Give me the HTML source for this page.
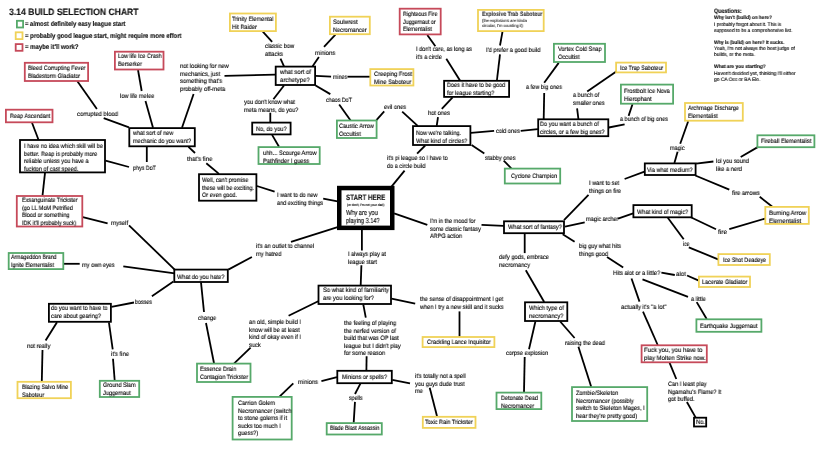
<!DOCTYPE html>
<html><head><meta charset="utf-8"><style>
html,body{margin:0;padding:0;background:#fff;}
body{width:830px;height:457px;position:relative;overflow:hidden;font-family:"Liberation Sans",sans-serif;}
.b{position:absolute;box-sizing:border-box;background:#fff;}
.t{position:absolute;white-space:pre;transform-origin:0 0;will-change:transform;text-rendering:geometricPrecision;-webkit-text-stroke:0.12px currentColor;}
svg{position:absolute;left:0;top:0;}
</style></head><body>

<svg width="830" height="457" viewBox="0 0 830 457">
<line x1="77.2" y1="81" x2="96.9" y2="109" stroke="#000" stroke-width="1.8"/>
<line x1="103.7" y1="118.2" x2="129" y2="127.3" stroke="#000" stroke-width="1.8"/>
<line x1="138" y1="70" x2="141.7" y2="91" stroke="#000" stroke-width="1.8"/>
<line x1="145.5" y1="101" x2="153" y2="127.8" stroke="#000" stroke-width="1.8"/>
<line x1="193.6" y1="94" x2="182" y2="127.8" stroke="#000" stroke-width="1.8"/>
<line x1="275.4" y1="74.6" x2="224.5" y2="75.9" stroke="#000" stroke-width="1.8"/>
<line x1="146.8" y1="146.8" x2="146.8" y2="162" stroke="#000" stroke-width="1.8"/>
<line x1="105.5" y1="160.7" x2="129" y2="167" stroke="#000" stroke-width="1.8"/>
<line x1="32" y1="122.8" x2="38.5" y2="139.7" stroke="#000" stroke-width="1.8"/>
<line x1="45" y1="172.9" x2="42.5" y2="195.7" stroke="#000" stroke-width="1.8"/>
<line x1="188.5" y1="146.8" x2="195" y2="153" stroke="#000" stroke-width="1.8"/>
<line x1="206.3" y1="163.3" x2="219" y2="173.9" stroke="#000" stroke-width="1.8"/>
<line x1="256.9" y1="186" x2="274.6" y2="191.6" stroke="#000" stroke-width="1.8"/>
<line x1="323.2" y1="198.7" x2="337.6" y2="201.3" stroke="#000" stroke-width="1.8"/>
<line x1="391.5" y1="186.6" x2="404.6" y2="170.6" stroke="#000" stroke-width="1.8"/>
<line x1="417.1" y1="153.6" x2="425.2" y2="145.5" stroke="#000" stroke-width="1.8"/>
<line x1="394.1" y1="213.3" x2="427.3" y2="224.8" stroke="#000" stroke-width="1.8"/>
<line x1="481.5" y1="224.8" x2="503.7" y2="225.8" stroke="#000" stroke-width="1.8"/>
<line x1="337.6" y1="227.1" x2="291" y2="241.8" stroke="#000" stroke-width="1.8"/>
<line x1="251.9" y1="257" x2="228.3" y2="269.6" stroke="#000" stroke-width="1.8"/>
<line x1="361.9" y1="229.7" x2="361.9" y2="250.6" stroke="#000" stroke-width="1.8"/>
<line x1="361.4" y1="265.3" x2="360.7" y2="285.3" stroke="#000" stroke-width="1.8"/>
<line x1="82.8" y1="217.2" x2="107.6" y2="223.3" stroke="#000" stroke-width="1.8"/>
<line x1="129" y1="225.3" x2="174.7" y2="269.6" stroke="#000" stroke-width="1.8"/>
<line x1="63.8" y1="263.8" x2="79.7" y2="263.8" stroke="#000" stroke-width="1.8"/>
<line x1="123.3" y1="266.3" x2="174.7" y2="273.4" stroke="#000" stroke-width="1.8"/>
<line x1="173.4" y1="281.5" x2="151.9" y2="296.2" stroke="#000" stroke-width="1.8"/>
<line x1="134" y1="302.5" x2="111.4" y2="306.8" stroke="#000" stroke-width="1.8"/>
<line x1="57" y1="322.3" x2="45.6" y2="340.5" stroke="#000" stroke-width="1.8"/>
<line x1="42.5" y1="350" x2="41.8" y2="381.5" stroke="#000" stroke-width="1.8"/>
<line x1="108.9" y1="322.3" x2="112.7" y2="349.4" stroke="#000" stroke-width="1.8"/>
<line x1="113" y1="358.7" x2="114.7" y2="380.5" stroke="#000" stroke-width="1.8"/>
<line x1="201" y1="282.3" x2="204" y2="312" stroke="#000" stroke-width="1.8"/>
<line x1="206" y1="323" x2="214" y2="363.3" stroke="#000" stroke-width="1.8"/>
<line x1="234.2" y1="363.3" x2="250.6" y2="347.6" stroke="#000" stroke-width="1.8"/>
<line x1="288.6" y1="315.7" x2="318.2" y2="301.2" stroke="#000" stroke-width="1.8"/>
<line x1="363.3" y1="304.5" x2="365.8" y2="317.7" stroke="#000" stroke-width="1.8"/>
<line x1="366.6" y1="356.2" x2="366.4" y2="370.5" stroke="#000" stroke-width="1.8"/>
<line x1="337" y1="377.2" x2="321.4" y2="381.2" stroke="#000" stroke-width="1.8"/>
<line x1="293.3" y1="383.3" x2="279.5" y2="396.6" stroke="#000" stroke-width="1.8"/>
<line x1="360.4" y1="383.7" x2="355" y2="394" stroke="#000" stroke-width="1.8"/>
<line x1="355" y1="401.9" x2="353.7" y2="422.8" stroke="#000" stroke-width="1.8"/>
<line x1="392.3" y1="379.9" x2="410" y2="383.3" stroke="#000" stroke-width="1.8"/>
<line x1="429.7" y1="387.8" x2="437.1" y2="416.5" stroke="#000" stroke-width="1.8"/>
<line x1="391.5" y1="298.7" x2="415.2" y2="303.7" stroke="#000" stroke-width="1.8"/>
<line x1="459.5" y1="311.4" x2="459.5" y2="336.7" stroke="#000" stroke-width="1.8"/>
<line x1="524.7" y1="233.7" x2="524.7" y2="253.1" stroke="#000" stroke-width="1.8"/>
<line x1="525.8" y1="270.3" x2="544.2" y2="302" stroke="#000" stroke-width="1.8"/>
<line x1="535.4" y1="321.5" x2="529" y2="349.3" stroke="#000" stroke-width="1.8"/>
<line x1="524.7" y1="357" x2="524" y2="392.3" stroke="#000" stroke-width="1.8"/>
<line x1="560.2" y1="321.5" x2="574.6" y2="338" stroke="#000" stroke-width="1.8"/>
<line x1="578.4" y1="346.8" x2="591.2" y2="386.8" stroke="#000" stroke-width="1.8"/>
<line x1="564" y1="220.2" x2="588.5" y2="194.9" stroke="#000" stroke-width="1.8"/>
<line x1="565" y1="226.6" x2="584.7" y2="222.3" stroke="#000" stroke-width="1.8"/>
<line x1="562.7" y1="234.2" x2="574.6" y2="241.8" stroke="#000" stroke-width="1.8"/>
<line x1="624.6" y1="179" x2="644.5" y2="171.6" stroke="#000" stroke-width="1.8"/>
<line x1="674.4" y1="163.1" x2="677.6" y2="151.7" stroke="#000" stroke-width="1.8"/>
<line x1="680.2" y1="143.7" x2="688.2" y2="121.2" stroke="#000" stroke-width="1.8"/>
<line x1="696.1" y1="163.6" x2="713.4" y2="161.5" stroke="#000" stroke-width="1.8"/>
<line x1="740.7" y1="157" x2="759" y2="146.4" stroke="#000" stroke-width="1.8"/>
<line x1="695.3" y1="175.5" x2="729.3" y2="189.6" stroke="#000" stroke-width="1.8"/>
<line x1="759.7" y1="196.7" x2="773" y2="207.3" stroke="#000" stroke-width="1.8"/>
<line x1="618" y1="218.6" x2="633.1" y2="213.3" stroke="#000" stroke-width="1.8"/>
<line x1="690.8" y1="217.2" x2="716" y2="229.2" stroke="#000" stroke-width="1.8"/>
<line x1="729.3" y1="229.2" x2="765" y2="218.6" stroke="#000" stroke-width="1.8"/>
<line x1="667.8" y1="217.8" x2="683.7" y2="239.2" stroke="#000" stroke-width="1.8"/>
<line x1="688.8" y1="247.3" x2="718.7" y2="259.6" stroke="#000" stroke-width="1.8"/>
<line x1="607" y1="257.1" x2="623.2" y2="267.6" stroke="#000" stroke-width="1.8"/>
<line x1="661.4" y1="272.7" x2="674.8" y2="275" stroke="#000" stroke-width="1.8"/>
<line x1="687.1" y1="275.5" x2="698.8" y2="280.6" stroke="#000" stroke-width="1.8"/>
<line x1="642.5" y1="279.4" x2="688" y2="296.8" stroke="#000" stroke-width="1.8"/>
<line x1="696.7" y1="302.1" x2="706.7" y2="319" stroke="#000" stroke-width="1.8"/>
<line x1="631.5" y1="278.5" x2="639.5" y2="301.6" stroke="#000" stroke-width="1.8"/>
<line x1="643" y1="311.7" x2="657.7" y2="345" stroke="#000" stroke-width="1.8"/>
<line x1="669.6" y1="362.8" x2="676.3" y2="379" stroke="#000" stroke-width="1.8"/>
<line x1="686.9" y1="402" x2="695.6" y2="417.4" stroke="#000" stroke-width="1.8"/>
<line x1="427.3" y1="34.9" x2="435.4" y2="46.3" stroke="#000" stroke-width="1.8"/>
<line x1="446.3" y1="58.7" x2="460" y2="80.5" stroke="#000" stroke-width="1.8"/>
<line x1="502.5" y1="31.6" x2="500" y2="45.5" stroke="#000" stroke-width="1.8"/>
<line x1="500" y1="54.4" x2="496.9" y2="80.5" stroke="#000" stroke-width="1.8"/>
<line x1="452.6" y1="97.4" x2="441.8" y2="108.9" stroke="#000" stroke-width="1.8"/>
<line x1="438" y1="117.2" x2="436.7" y2="125.8" stroke="#000" stroke-width="1.8"/>
<line x1="402.2" y1="111.6" x2="417.7" y2="125.8" stroke="#000" stroke-width="1.8"/>
<line x1="470.9" y1="132.9" x2="494.1" y2="130.9" stroke="#000" stroke-width="1.8"/>
<line x1="520.7" y1="130.9" x2="537.9" y2="129.1" stroke="#000" stroke-width="1.8"/>
<line x1="471.6" y1="145" x2="484.3" y2="153.6" stroke="#000" stroke-width="1.8"/>
<line x1="503.7" y1="160.7" x2="511.3" y2="168.3" stroke="#000" stroke-width="1.8"/>
<line x1="543.7" y1="119" x2="544.2" y2="92.9" stroke="#000" stroke-width="1.8"/>
<line x1="544.2" y1="82.8" x2="558.7" y2="62.9" stroke="#000" stroke-width="1.8"/>
<line x1="578.4" y1="119" x2="577.1" y2="108.3" stroke="#000" stroke-width="1.8"/>
<line x1="587.2" y1="91.6" x2="617" y2="71" stroke="#000" stroke-width="1.8"/>
<line x1="608.8" y1="127.5" x2="624.6" y2="124.4" stroke="#000" stroke-width="1.8"/>
<line x1="628.6" y1="115.9" x2="632.5" y2="104.2" stroke="#000" stroke-width="1.8"/>
<line x1="284" y1="66.3" x2="280.5" y2="58.7" stroke="#000" stroke-width="1.8"/>
<line x1="262.8" y1="31.6" x2="272.1" y2="41.8" stroke="#000" stroke-width="1.8"/>
<line x1="312.6" y1="66.3" x2="318.9" y2="56.9" stroke="#000" stroke-width="1.8"/>
<line x1="324" y1="46.8" x2="335.4" y2="34.7" stroke="#000" stroke-width="1.8"/>
<line x1="315.6" y1="75.9" x2="331.1" y2="76.7" stroke="#000" stroke-width="1.8"/>
<line x1="347.5" y1="76.7" x2="370" y2="76.7" stroke="#000" stroke-width="1.8"/>
<line x1="284" y1="85.5" x2="273.4" y2="99.2" stroke="#000" stroke-width="1.8"/>
<line x1="270.3" y1="112.7" x2="270.3" y2="122.3" stroke="#000" stroke-width="1.8"/>
<line x1="272.1" y1="134.9" x2="279" y2="146.8" stroke="#000" stroke-width="1.8"/>
<line x1="315.6" y1="85.5" x2="330.3" y2="94.1" stroke="#000" stroke-width="1.8"/>
<line x1="339.2" y1="104.5" x2="350.6" y2="120.5" stroke="#000" stroke-width="1.8"/>
<line x1="376.4" y1="120.2" x2="384.2" y2="111.4" stroke="#000" stroke-width="1.8"/>
<rect x="16.90" y="20.80" width="6.20" height="6.70" fill="#fff" stroke="#56a96a" stroke-width="1.80"/>
<rect x="15.70" y="32.30" width="6.80" height="6.80" fill="#fff" stroke="#f0d258" stroke-width="1.80"/>
<rect x="15.70" y="44.10" width="6.80" height="6.70" fill="#fff" stroke="#c64a5a" stroke-width="1.80"/>
<rect x="24.80" y="62.80" width="63.30" height="18.20" fill="#fff" stroke="#c64a5a" stroke-width="1.80"/>
<rect x="114.90" y="51.70" width="48.60" height="17.80" fill="#fff" stroke="#c64a5a" stroke-width="1.80"/>
<rect x="5.90" y="109.70" width="46.60" height="12.60" fill="#fff" stroke="#c64a5a" stroke-width="1.80"/>
<rect x="20.00" y="140.00" width="85.00" height="32.40" fill="#fff" stroke="#000000" stroke-width="1.80"/>
<rect x="129.30" y="128.10" width="65.50" height="18.20" fill="#fff" stroke="#000000" stroke-width="1.80"/>
<rect x="199.00" y="174.20" width="57.40" height="26.50" fill="#fff" stroke="#000000" stroke-width="1.80"/>
<rect x="16.80" y="196.00" width="65.50" height="30.50" fill="#fff" stroke="#c64a5a" stroke-width="1.80"/>
<rect x="8.70" y="253.00" width="54.60" height="16.10" fill="#fff" stroke="#56a96a" stroke-width="1.80"/>
<rect x="174.30" y="269.60" width="53.50" height="12.40" fill="#fff" stroke="#000000" stroke-width="1.80"/>
<rect x="48.90" y="303.80" width="62.00" height="18.00" fill="#fff" stroke="#000000" stroke-width="1.80"/>
<rect x="17.50" y="381.80" width="53.40" height="16.40" fill="#fff" stroke="#f0d258" stroke-width="1.80"/>
<rect x="99.80" y="380.80" width="39.40" height="16.20" fill="#fff" stroke="#56a96a" stroke-width="1.80"/>
<rect x="197.00" y="363.60" width="53.50" height="18.40" fill="#fff" stroke="#56a96a" stroke-width="1.80"/>
<rect x="232.60" y="396.90" width="59.10" height="42.60" fill="#fff" stroke="#56a96a" stroke-width="1.80"/>
<rect x="337.30" y="370.80" width="54.50" height="12.40" fill="#fff" stroke="#000000" stroke-width="1.80"/>
<rect x="326.70" y="423.10" width="55.10" height="11.40" fill="#fff" stroke="#56a96a" stroke-width="1.80"/>
<rect x="422.80" y="416.80" width="52.70" height="11.10" fill="#fff" stroke="#f0d258" stroke-width="1.80"/>
<rect x="318.50" y="285.60" width="72.50" height="18.40" fill="#fff" stroke="#000000" stroke-width="1.80"/>
<rect x="339.25" y="188.05" width="53.00" height="39.80" fill="#fff" stroke="#000000" stroke-width="4.50"/>
<rect x="258.50" y="147.10" width="61.20" height="16.90" fill="#fff" stroke="#56a96a" stroke-width="1.80"/>
<rect x="252.20" y="122.60" width="38.40" height="11.80" fill="#fff" stroke="#000000" stroke-width="1.80"/>
<rect x="275.70" y="66.60" width="39.40" height="18.40" fill="#fff" stroke="#000000" stroke-width="1.80"/>
<rect x="229.90" y="13.50" width="46.00" height="17.60" fill="#fff" stroke="#f0d258" stroke-width="1.80"/>
<rect x="329.90" y="16.70" width="39.90" height="17.50" fill="#fff" stroke="#f0d258" stroke-width="1.80"/>
<rect x="370.30" y="69.10" width="43.10" height="16.40" fill="#fff" stroke="#f0d258" stroke-width="1.80"/>
<rect x="336.90" y="120.50" width="39.70" height="17.50" fill="#fff" stroke="#56a96a" stroke-width="1.80"/>
<rect x="399.70" y="8.70" width="41.00" height="25.70" fill="#fff" stroke="#c64a5a" stroke-width="1.80"/>
<rect x="444.10" y="80.80" width="65.00" height="16.10" fill="#fff" stroke="#000000" stroke-width="1.80"/>
<rect x="478.00" y="9.90" width="65.70" height="21.20" fill="#fff" stroke="#f0d258" stroke-width="1.80"/>
<rect x="553.90" y="43.80" width="51.10" height="18.20" fill="#fff" stroke="#56a96a" stroke-width="1.80"/>
<rect x="413.00" y="126.10" width="57.40" height="18.90" fill="#fff" stroke="#000000" stroke-width="1.80"/>
<rect x="538.20" y="119.30" width="70.10" height="16.90" fill="#fff" stroke="#000000" stroke-width="1.80"/>
<rect x="504.80" y="168.60" width="55.40" height="14.90" fill="#fff" stroke="#56a96a" stroke-width="1.80"/>
<rect x="616.10" y="62.60" width="49.90" height="9.80" fill="#fff" stroke="#f0d258" stroke-width="1.80"/>
<rect x="620.90" y="84.60" width="52.20" height="19.10" fill="#fff" stroke="#56a96a" stroke-width="1.80"/>
<rect x="685.00" y="103.00" width="57.80" height="17.70" fill="#fff" stroke="#f0d258" stroke-width="1.80"/>
<rect x="644.80" y="163.40" width="50.80" height="11.60" fill="#fff" stroke="#000000" stroke-width="1.80"/>
<rect x="757.40" y="135.30" width="57.00" height="11.90" fill="#fff" stroke="#56a96a" stroke-width="1.80"/>
<rect x="633.40" y="205.10" width="58.30" height="12.20" fill="#fff" stroke="#000000" stroke-width="1.80"/>
<rect x="765.30" y="206.90" width="43.50" height="17.00" fill="#fff" stroke="#f0d258" stroke-width="1.80"/>
<rect x="718.40" y="254.10" width="51.40" height="10.90" fill="#fff" stroke="#f0d258" stroke-width="1.80"/>
<rect x="698.90" y="276.60" width="51.10" height="10.40" fill="#fff" stroke="#f0d258" stroke-width="1.80"/>
<rect x="696.40" y="319.30" width="65.00" height="12.50" fill="#fff" stroke="#56a96a" stroke-width="1.80"/>
<rect x="641.60" y="345.30" width="65.20" height="17.00" fill="#fff" stroke="#c64a5a" stroke-width="1.80"/>
<rect x="694.00" y="417.70" width="12.20" height="8.80" fill="#fff" stroke="#000000" stroke-width="1.80"/>
<rect x="504.00" y="221.30" width="60.00" height="11.90" fill="#fff" stroke="#000000" stroke-width="1.80"/>
<rect x="422.60" y="337.00" width="71.80" height="10.10" fill="#fff" stroke="#f0d258" stroke-width="1.80"/>
<rect x="525.00" y="302.30" width="42.30" height="18.70" fill="#fff" stroke="#000000" stroke-width="1.80"/>
<rect x="496.50" y="392.60" width="44.80" height="16.50" fill="#fff" stroke="#56a96a" stroke-width="1.80"/>
<rect x="572.00" y="387.10" width="75.20" height="33.90" fill="#fff" stroke="#56a96a" stroke-width="1.80"/>
</svg>
<div class="t" style="left:8.9px;top:9.0px;font-size:9.3px;line-height:7.5px;color:#111;transform:scaleX(0.925);font-weight:bold">3.14 BUILD SELECTION CHART</div>
<div class="t" style="left:24.8px;top:21.3px;font-size:6.8px;line-height:7.5px;color:#111;transform:scaleX(0.862);font-weight:bold">= almost definitely easy league start</div>
<div class="t" style="left:24.8px;top:33.0px;font-size:6.8px;line-height:7.5px;color:#111;transform:scaleX(0.879);font-weight:bold">= probably good league start, might require more effort</div>
<div class="t" style="left:24.8px;top:44.4px;font-size:6.8px;line-height:7.5px;color:#111;transform:scaleX(0.881);font-weight:bold">= maybe it'll work?</div>
<div class="t" style="left:713.9px;top:8.2px;font-size:6.5px;line-height:7.5px;color:#111;transform:scaleX(0.819);font-weight:bold">Questions:</div>
<div class="t" style="left:713.9px;top:15.0px;font-size:5px;line-height:7.5px;color:#111;transform:scaleX(0.945);font-weight:bold">Why isn't (build) on here?</div>
<div class="t" style="left:713.9px;top:21.9px;font-size:5px;line-height:6.1px;color:#000;transform:scaleX(0.947)">I probably forgot about it. This is<br>supposed to be a comprehensive list.</div>
<div class="t" style="left:713.9px;top:39.6px;font-size:5px;line-height:7.5px;color:#111;transform:scaleX(0.916);font-weight:bold">Why is (build) on here? It sucks.</div>
<div class="t" style="left:713.9px;top:46.3px;font-size:5px;line-height:6.3px;color:#000;transform:scaleX(0.963)">Yeah, I'm not always the best judge of<br>builds, or the meta.</div>
<div class="t" style="left:713.9px;top:64.3px;font-size:5px;line-height:7.5px;color:#111;transform:scaleX(0.954);font-weight:bold">What are you starting?</div>
<div class="t" style="left:713.9px;top:71.3px;font-size:5px;line-height:6.1px;color:#000;transform:scaleX(0.976)">Haven't decided yet, thinking I'll either<br>go CA Occ or BA Ele.</div>
<div class="t" style="left:27.8px;top:64.9px;font-size:6.3px;line-height:7.5px;color:#000;transform:scaleX(0.883)">Bleed Corrupting Fever<br>Bladestorm Gladiator</div>
<div class="t" style="left:117.7px;top:53.3px;font-size:6.3px;line-height:7.5px;color:#000;transform:scaleX(0.871)">Low life Ice Crash<br>Berserker</div>
<div class="t" style="left:180.3px;top:63.4px;font-size:6.3px;line-height:7.5px;color:#000;transform:scaleX(0.923)">not looking for new<br>mechanics, just<br>something that's<br>probably off-meta</div>
<div class="t" style="left:119.7px;top:92.7px;font-size:6.3px;line-height:7.5px;color:#000;transform:scaleX(0.899)">low life melee</div>
<div class="t" style="left:77.0px;top:111.1px;font-size:6.3px;line-height:7.5px;color:#000;transform:scaleX(0.937)">corrupted blood</div>
<div class="t" style="left:9.6px;top:112.5px;font-size:6.3px;line-height:7.5px;color:#000;transform:scaleX(0.872)">Reap Ascendant</div>
<div class="t" style="left:24.0px;top:143.2px;font-size:6.3px;line-height:7.5px;color:#000;transform:scaleX(0.888)">I have no idea which skill will be<br>better. Reap is probably more<br>reliable unless you have a<br>fuckton of cast speed.</div>
<div class="t" style="left:133.4px;top:129.5px;font-size:6.3px;line-height:7.5px;color:#000;transform:scaleX(0.879)">what sort of new<br>mechanic do you want?</div>
<div class="t" style="left:133.0px;top:164.7px;font-size:6.3px;line-height:7.5px;color:#000;transform:scaleX(0.853)">phys DoT</div>
<div class="t" style="left:187.3px;top:155.8px;font-size:6.3px;line-height:7.5px;color:#000;transform:scaleX(0.949)">that's fine</div>
<div class="t" style="left:202.0px;top:176.8px;font-size:6.3px;line-height:7.5px;color:#000;transform:scaleX(0.874)">Well, can't promise<br>these will be exciting.<br>Or even good.</div>
<div class="t" style="left:21.8px;top:197.3px;font-size:6.3px;line-height:7.5px;color:#000;transform:scaleX(0.874)">Exsanguinate Trickster<br>(go LL MoM Petrified<br>Blood or something<br>IDK it'll probably suck)</div>
<div class="t" style="left:110.6px;top:220.4px;font-size:6.3px;line-height:7.5px;color:#000;transform:scaleX(0.945)">myself</div>
<div class="t" style="left:11.4px;top:254.3px;font-size:6.3px;line-height:7.5px;color:#000;transform:scaleX(0.835)">Armageddon Brand<br>Ignite Elementalist</div>
<div class="t" style="left:82.3px;top:262.1px;font-size:6.3px;line-height:7.5px;color:#000;transform:scaleX(0.890)">my own eyes</div>
<div class="t" style="left:177.2px;top:274.1px;font-size:6.3px;line-height:7.5px;color:#000;transform:scaleX(0.900)">What do you hate?</div>
<div class="t" style="left:135.0px;top:298.9px;font-size:6.3px;line-height:7.5px;color:#000;transform:scaleX(0.852)">bosses</div>
<div class="t" style="left:51.4px;top:305.4px;font-size:6.3px;line-height:7.5px;color:#000;transform:scaleX(0.894)">do you want to have to<br>care about gearing?</div>
<div class="t" style="left:26.6px;top:343.1px;font-size:6.3px;line-height:7.5px;color:#000;transform:scaleX(0.915)">not really</div>
<div class="t" style="left:111.0px;top:350.8px;font-size:6.3px;line-height:7.5px;color:#000;transform:scaleX(0.927)">it's fine</div>
<div class="t" style="left:21.5px;top:383.9px;font-size:6.3px;line-height:7.5px;color:#000;transform:scaleX(0.864)">Blazing Salvo Mine<br>Saboteur</div>
<div class="t" style="left:103.3px;top:382.4px;font-size:6.3px;line-height:7.5px;color:#000;transform:scaleX(0.881)">Ground Slam<br>Juggernaut</div>
<div class="t" style="left:198.0px;top:314.8px;font-size:6.3px;line-height:7.5px;color:#000;transform:scaleX(0.871)">change</div>
<div class="t" style="left:200.0px;top:365.5px;font-size:6.3px;line-height:7.5px;color:#000;transform:scaleX(0.884)">Essence Drain<br>Contagion Trickster</div>
<div class="t" style="left:248.6px;top:319.1px;font-size:6.3px;line-height:7.5px;color:#000;transform:scaleX(0.905)">an old, simple build I<br>know will be at least<br>kind of okay even if I<br>suck</div>
<div class="t" style="left:237.9px;top:399.5px;font-size:6.3px;line-height:7.5px;color:#000;transform:scaleX(0.904)">Carrion Golem<br>Necromancer (switch<br>to stone golems if it<br>sucks too much I<br>guess?)</div>
<div class="t" style="left:297.5px;top:379.1px;font-size:6.3px;line-height:7.5px;color:#000;transform:scaleX(0.921)">minions</div>
<div class="t" style="left:342.3px;top:373.7px;font-size:6.3px;line-height:7.5px;color:#000;transform:scaleX(0.893)">Minions or spells?</div>
<div class="t" style="left:348.5px;top:395.4px;font-size:6.3px;line-height:7.5px;color:#000;transform:scaleX(0.838)">spells</div>
<div class="t" style="left:329.9px;top:425.4px;font-size:6.3px;line-height:7.5px;color:#000;transform:scaleX(0.846)">Blade Blast Assassin</div>
<div class="t" style="left:414.8px;top:373.0px;font-size:6.3px;line-height:7.5px;color:#000;transform:scaleX(0.902)">it's totally not a spell<br>you guys dude trust<br>me</div>
<div class="t" style="left:425.2px;top:419.4px;font-size:6.3px;line-height:7.5px;color:#000;transform:scaleX(0.873)">Toxic Rain Trickster</div>
<div class="t" style="left:343.8px;top:319.9px;font-size:6.3px;line-height:7.5px;color:#000;transform:scaleX(0.902)">the feeling of playing<br>the nerfed version of<br>build that was OP last<br>league but I didn't play<br>for some reason</div>
<div class="t" style="left:322.7px;top:287.0px;font-size:6.3px;line-height:7.5px;color:#000;transform:scaleX(0.921)">So what kind of familiarity<br>are you looking for?</div>
<div class="t" style="left:348.0px;top:250.7px;font-size:6.3px;line-height:7.5px;color:#000;transform:scaleX(0.882)">I always play at<br>league start</div>
<div class="t" style="left:255.7px;top:242.6px;font-size:6.3px;line-height:7.5px;color:#000;transform:scaleX(0.906)">it's an outlet to channel<br>my hatred</div>
<div class="t" style="left:345.5px;top:193.7px;font-size:7.8px;line-height:7.5px;color:#111;transform:scaleX(0.800);font-weight:bold">START HERE</div>
<div class="t" style="left:346.6px;top:202.9px;font-size:3.4px;line-height:4px;color:#000;transform:scaleX(0.938)">(or don't, I'm not your dad)</div>
<div class="t" style="left:345.5px;top:209.0px;font-size:7.3px;line-height:7.6px;color:#000;transform:scaleX(0.776)">Why are you<br>playing 3.14?</div>
<div class="t" style="left:277.2px;top:191.5px;font-size:6.3px;line-height:7.5px;color:#000;transform:scaleX(0.882)">I want to do new<br>and exciting things</div>
<div class="t" style="left:262.8px;top:149.7px;font-size:6.3px;line-height:7.5px;color:#000;transform:scaleX(0.911)">uhh... Scourge Arrow<br>Pathfinder I guess</div>
<div class="t" style="left:256.2px;top:125.7px;font-size:6.3px;line-height:7.5px;color:#000;transform:scaleX(0.901)">No, do you?</div>
<div class="t" style="left:244.3px;top:99.4px;font-size:6.3px;line-height:7.5px;color:#000;transform:scaleX(0.898)">you don't know what<br>meta means, do you?</div>
<div class="t" style="left:279.8px;top:68.7px;font-size:6.3px;line-height:7.5px;color:#000;transform:scaleX(0.952)">what sort of<br>archetype?</div>
<div class="t" style="left:232.1px;top:15.6px;font-size:6.3px;line-height:7.5px;color:#000;transform:scaleX(0.885)">Trinity Elemental<br>Hit Raider</div>
<div class="t" style="left:264.5px;top:43.4px;font-size:6.3px;line-height:7.5px;color:#000;transform:scaleX(0.903)">classic bow<br>attacks</div>
<div class="t" style="left:333.4px;top:19.4px;font-size:6.3px;line-height:7.5px;color:#000;transform:scaleX(0.889)">Soulwrest<br>Necromancer</div>
<div class="t" style="left:314.6px;top:49.5px;font-size:6.3px;line-height:7.5px;color:#000;transform:scaleX(0.935)">minions</div>
<div class="t" style="left:333.4px;top:73.5px;font-size:6.3px;line-height:7.5px;color:#000;transform:scaleX(0.839)">mines</div>
<div class="t" style="left:373.8px;top:70.5px;font-size:6.3px;line-height:7.5px;color:#000;transform:scaleX(0.912)">Creeping Frost<br>Mine Saboteur</div>
<div class="t" style="left:325.8px;top:97.1px;font-size:6.3px;line-height:7.5px;color:#000;transform:scaleX(0.854)">chaos DoT</div>
<div class="t" style="left:339.2px;top:122.9px;font-size:6.3px;line-height:7.5px;color:#000;transform:scaleX(0.898)">Caustic Arrow<br>Occultist</div>
<div class="t" style="left:384.0px;top:104.4px;font-size:6.3px;line-height:7.5px;color:#000;transform:scaleX(0.885)">evil ones</div>
<div class="t" style="left:403.0px;top:11.0px;font-size:6.3px;line-height:7.5px;color:#000;transform:scaleX(0.840)">Righteous Fire<br>Juggernaut or<br>Elementalist</div>
<div class="t" style="left:415.7px;top:46.4px;font-size:6.3px;line-height:7.5px;color:#000;transform:scaleX(0.885)">I don't care, as long as<br>it's a circle</div>
<div class="t" style="left:446.8px;top:82.4px;font-size:6.3px;line-height:7.5px;color:#000;transform:scaleX(0.875)">Does it have to be good<br>for league starting?</div>
<div class="t" style="left:481.5px;top:11.0px;font-size:6.3px;line-height:7.5px;color:#3a3a3a;transform:scaleX(0.820);font-weight:bold">Explosive Trab Saboteur</div>
<div class="t" style="left:481.8px;top:18.4px;font-size:4.3px;line-height:5.0px;color:#333;transform:scaleX(0.937)">(the explosions are kinda<br>circular, I'm counting it)</div>
<div class="t" style="left:486.0px;top:46.9px;font-size:6.3px;line-height:7.5px;color:#000;transform:scaleX(0.896)">I'd prefer a good build</div>
<div class="t" style="left:557.6px;top:45.9px;font-size:6.3px;line-height:7.5px;color:#000;transform:scaleX(0.889)">Vortex Cold Snap<br>Occultist</div>
<div class="t" style="left:526.0px;top:83.6px;font-size:6.3px;line-height:7.5px;color:#000;transform:scaleX(0.886)">a few big ones</div>
<div class="t" style="left:572.8px;top:91.5px;font-size:6.3px;line-height:7.5px;color:#000;transform:scaleX(0.888)">a bunch of<br>smaller ones</div>
<div class="t" style="left:427.8px;top:110.3px;font-size:6.3px;line-height:7.5px;color:#000;transform:scaleX(0.910)">hot ones</div>
<div class="t" style="left:415.7px;top:129.5px;font-size:6.3px;line-height:7.5px;color:#000;transform:scaleX(0.883)">Now we're talking.<br>What kind of circles?</div>
<div class="t" style="left:496.2px;top:128.0px;font-size:6.3px;line-height:7.5px;color:#000;transform:scaleX(0.890)">cold ones</div>
<div class="t" style="left:539.9px;top:121.1px;font-size:6.3px;line-height:7.5px;color:#000;transform:scaleX(0.887)">Do you want a bunch of<br>circles, or a few big ones?</div>
<div class="t" style="left:386.9px;top:154.6px;font-size:6.3px;line-height:7.5px;color:#000;transform:scaleX(0.879)">it's pi league so I have to<br>do a circle build</div>
<div class="t" style="left:485.3px;top:155.3px;font-size:6.3px;line-height:7.5px;color:#000;transform:scaleX(0.901)">stabby ones</div>
<div class="t" style="left:510.8px;top:173.0px;font-size:6.3px;line-height:7.5px;color:#000;transform:scaleX(0.866)">Cyclone Champion</div>
<div class="t" style="left:588.5px;top:179.8px;font-size:6.3px;line-height:7.5px;color:#000;transform:scaleX(0.890)">I want to set<br>things on fire</div>
<div class="t" style="left:619.8px;top:64.7px;font-size:6.3px;line-height:7.5px;color:#000;transform:scaleX(0.863)">Ice Trap Saboteur</div>
<div class="t" style="left:623.8px;top:88.0px;font-size:6.3px;line-height:7.5px;color:#000;transform:scaleX(0.896)">Frostbolt Ice Nova<br>Hierophant</div>
<div class="t" style="left:688.2px;top:105.1px;font-size:6.3px;line-height:7.5px;color:#000;transform:scaleX(0.865)">Archmage Discharge<br>Elementalist</div>
<div class="t" style="left:619.8px;top:115.7px;font-size:6.3px;line-height:7.5px;color:#000;transform:scaleX(0.873)">a bunch of big ones</div>
<div class="t" style="left:670.4px;top:144.8px;font-size:6.3px;line-height:7.5px;color:#000;transform:scaleX(0.869)">magic</div>
<div class="t" style="left:647.1px;top:166.5px;font-size:6.3px;line-height:7.5px;color:#000;transform:scaleX(0.882)">Via what medium?</div>
<div class="t" style="left:716.0px;top:158.1px;font-size:6.3px;line-height:7.5px;color:#000;transform:scaleX(0.892)">lol you sound<br>like a nerd</div>
<div class="t" style="left:761.1px;top:138.2px;font-size:6.3px;line-height:7.5px;color:#000;transform:scaleX(0.887)">Fireball Elementalist</div>
<div class="t" style="left:731.9px;top:190.4px;font-size:6.3px;line-height:7.5px;color:#000;transform:scaleX(0.945)">fire arrows</div>
<div class="t" style="left:636.5px;top:208.5px;font-size:6.3px;line-height:7.5px;color:#000;transform:scaleX(0.897)">What kind of magic?</div>
<div class="t" style="left:585.5px;top:216.1px;font-size:6.3px;line-height:7.5px;color:#000;transform:scaleX(0.893)">magic archer</div>
<div class="t" style="left:718.0px;top:228.9px;font-size:6.3px;line-height:7.5px;color:#000;transform:scaleX(1.028)">fire</div>
<div class="t" style="left:768.5px;top:209.6px;font-size:6.3px;line-height:7.5px;color:#000;transform:scaleX(0.938)">Burning Arrow<br>Elementalist</div>
<div class="t" style="left:683.2px;top:240.9px;font-size:6.3px;line-height:7.5px;color:#000;transform:scaleX(0.795)">ice</div>
<div class="t" style="left:723.4px;top:256.7px;font-size:6.3px;line-height:7.5px;color:#000;transform:scaleX(0.859)">Ice Shot Deadeye</div>
<div class="t" style="left:579.0px;top:243.1px;font-size:6.3px;line-height:7.5px;color:#000;transform:scaleX(0.895)">big guy what hits<br>things good</div>
<div class="t" style="left:612.7px;top:269.6px;font-size:6.3px;line-height:7.5px;color:#000;transform:scaleX(0.913)">Hits alot or a little?</div>
<div class="t" style="left:675.6px;top:271.1px;font-size:6.3px;line-height:7.5px;color:#000;transform:scaleX(0.955)">alot</div>
<div class="t" style="left:702.0px;top:278.7px;font-size:6.3px;line-height:7.5px;color:#000;transform:scaleX(0.874)">Lacerate Gladiator</div>
<div class="t" style="left:691.0px;top:295.8px;font-size:6.3px;line-height:7.5px;color:#000;transform:scaleX(0.899)">a little</div>
<div class="t" style="left:621.0px;top:303.6px;font-size:6.3px;line-height:7.5px;color:#000;transform:scaleX(0.931)">actually it's "a lot"</div>
<div class="t" style="left:700.1px;top:322.5px;font-size:6.3px;line-height:7.5px;color:#000;transform:scaleX(0.878)">Earthquake Juggernaut</div>
<div class="t" style="left:643.7px;top:346.9px;font-size:6.3px;line-height:7.5px;color:#000;transform:scaleX(0.952)">Fuck you, you have to<br>play Molten Strike now.</div>
<div class="t" style="left:667.9px;top:381.2px;font-size:6.3px;line-height:7.5px;color:#000;transform:scaleX(0.890)">Can I least play<br>Ngamahu's Flame? It<br>got buffed.</div>
<div class="t" style="left:695.6px;top:419.1px;font-size:6.3px;line-height:7.5px;color:#000;transform:scaleX(0.928)">No.</div>
<div class="t" style="left:507.5px;top:224.1px;font-size:6.3px;line-height:7.5px;color:#000;transform:scaleX(0.906)">What sort of fantasy?</div>
<div class="t" style="left:429.6px;top:218.1px;font-size:6.3px;line-height:7.5px;color:#000;transform:scaleX(0.876)">I'm in the mood for<br>some classic fantasy<br>ARPG action</div>
<div class="t" style="left:499.4px;top:254.0px;font-size:6.3px;line-height:7.5px;color:#000;transform:scaleX(0.902)">defy gods, embrace<br>necromancy</div>
<div class="t" style="left:419.7px;top:295.8px;font-size:6.3px;line-height:7.5px;color:#000;transform:scaleX(0.897)">the sense of disappointment I get<br>when I try a new skill and it sucks</div>
<div class="t" style="left:426.6px;top:339.1px;font-size:6.3px;line-height:7.5px;color:#000;transform:scaleX(0.879)">Crackling Lance Inquisitor</div>
<div class="t" style="left:528.5px;top:304.7px;font-size:6.3px;line-height:7.5px;color:#000;transform:scaleX(0.909)">Which type of<br>necromancy?</div>
<div class="t" style="left:505.8px;top:349.7px;font-size:6.3px;line-height:7.5px;color:#000;transform:scaleX(0.893)">corpse explosion</div>
<div class="t" style="left:564.5px;top:339.6px;font-size:6.3px;line-height:7.5px;color:#000;transform:scaleX(0.892)">raising the dead</div>
<div class="t" style="left:500.7px;top:394.7px;font-size:6.3px;line-height:7.5px;color:#000;transform:scaleX(0.875)">Detonate Dead<br>Necromancer</div>
<div class="t" style="left:575.7px;top:389.5px;font-size:6.3px;line-height:7.5px;color:#000;transform:scaleX(0.895)">Zombie/Skeleton<br>Necromancer (possibly<br>switch to Skeleton Mages, I<br>hear they're pretty good)</div>
</body></html>
